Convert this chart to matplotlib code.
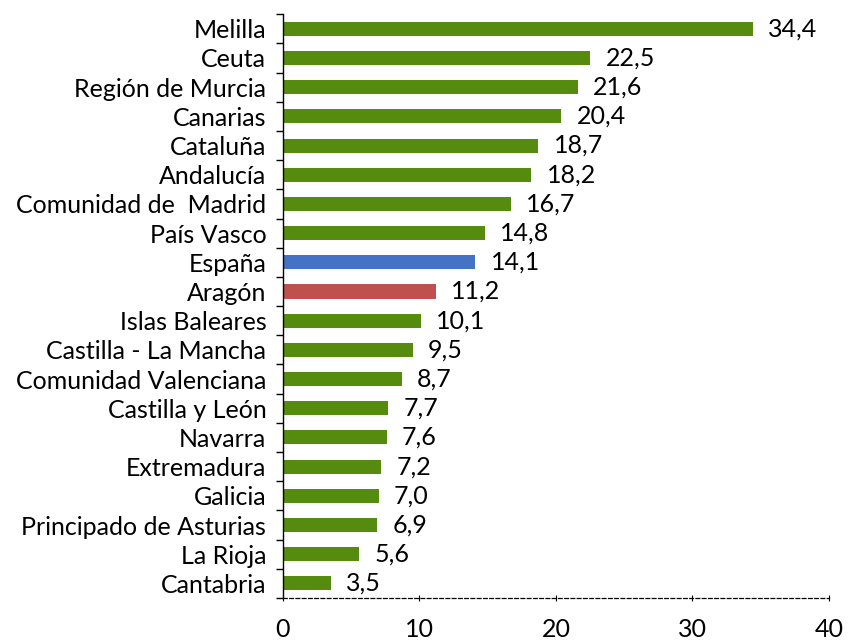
import matplotlib.pyplot as plt
import numpy as np

regions = ["Melilla", "Ceuta", "Región de Murcia", "Canarias", "Cataluña",
           "Andalucía", "Comunidad de  Madrid", "País Vasco", "España", "Aragón",
           "Islas Baleares", "Castilla - La Mancha", "Comunidad Valenciana",
           "Castilla y León", "Navarra", "Extremadura", "Galicia",
           "Principado de Asturias", "La Rioja", "Cantabria"]
values = [34.4, 22.5, 21.6, 20.4, 18.7, 18.2, 16.7, 14.8, 14.1, 11.2,
          10.1, 9.5, 8.7, 7.7, 7.6, 7.2, 7.0, 6.9, 5.6, 3.5]

green = "#558B0F"
colors = [green] * len(regions)
colors[regions.index("España")] = "#4472C4"
colors[regions.index("Aragón")] = "#C0504D"

plt.rcParams['font.family'] = ['Lato', 'DejaVu Sans']
fs = 18

fig = plt.figure(figsize=(8.48, 6.44), dpi=100)
ax = fig.add_axes([0.3337, 0.0714, 0.9776 - 0.3337, 0.978 - 0.0714])

y = np.arange(len(regions))
ax.barh(y, values, height=0.48, color=colors)

for yi, v in zip(y, values):
    ax.annotate(f"{v:.1f}".replace(".", ","), (v, yi), xytext=(11, 0),
                textcoords="offset points", va="center", ha="left", fontsize=fs)

ax.set_ylim(len(regions) - 0.5, -0.5)
ax.set_xlim(0, 40)
ax.set_xticks([0, 10, 20, 30, 40])
ax.set_yticks(y)
ax.set_yticklabels(regions, fontsize=fs)
ax.set_yticks(np.arange(len(regions) + 1) - 0.5, minor=True)
ax.tick_params(axis="y", which="major", length=0, pad=12)
ax.tick_params(axis="y", which="minor", length=5, width=1, direction="out")
ax.tick_params(axis="x", length=5, width=0.8, direction="inout", pad=12, labelsize=fs)

for s in ["top", "right"]:
    ax.spines[s].set_visible(False)
ax.spines["bottom"].set_linestyle((0, (3, 2)))
ax.spines["bottom"].set_linewidth(0.9)
ax.spines["left"].set_linewidth(1.0)

fig.savefig("out.png", dpi=100)
